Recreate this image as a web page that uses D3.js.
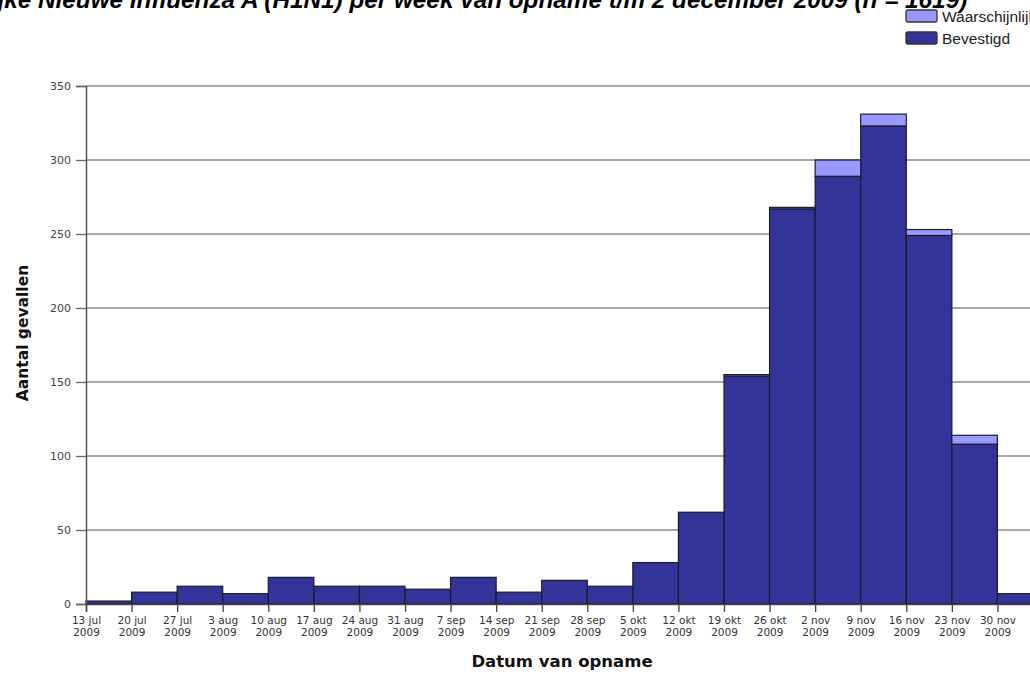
<!DOCTYPE html>
<html>
<head>
<meta charset="utf-8">
<script src="https://cdn.jsdelivr.net/npm/d3@7"></script>
<style>
  body { margin: 0; background: #fff; }
  svg { display: block; }
</style>
</head>
<body>
<div id="chart"></div>
<script>
// weekly admissions, stacked: bevestigd (confirmed) + waarschijnlijk (probable)
const weekStarts = ['2009-07-13', '2009-07-20', '2009-07-27', '2009-08-03', '2009-08-10', '2009-08-17',
  '2009-08-24', '2009-08-31', '2009-09-07', '2009-09-14', '2009-09-21', '2009-09-28', '2009-10-05',
  '2009-10-12', '2009-10-19', '2009-10-26', '2009-11-02', '2009-11-09', '2009-11-16', '2009-11-23',
  '2009-11-30'];
const weekLabels = ['13 jul', '20 jul', '27 jul', '3 aug', '10 aug', '17 aug', '24 aug', '31 aug',
  '7 sep', '14 sep', '21 sep', '28 sep', '5 okt', '12 okt', '19 okt', '26 okt', '2 nov', '9 nov',
  '16 nov', '23 nov', '30 nov'];
const yearLabel = '2009';
const bevestigd = [2, 8, 12, 7, 18, 12, 12, 10, 18, 8, 16, 12, 28, 62, 154, 267, 289, 323, 249, 108, 7];
const waarschijnlijk = [0, 0, 0, 0, 0, 0, 0, 0, 0, 0, 0, 0, 0, 0, 1, 1, 11, 8, 4, 6, 0];
const yTicks = [0, 50, 100, 150, 200, 250, 300, 350];

const seriesNames = ['Waarschijnlijk', 'Bevestigd'];
const colors = { Bevestigd: '#333399', Waarschijnlijk: '#9999ff' };
const titleText = 'Ziekenhuisopnames met bevestigde en waarschijnlijke Nieuwe Influenza A (H1N1) per week van opname t/m 2 december 2009 (n = 1619)';

const width = 1030;
const height = 675;
const margin = { left: 86, top: 86, bottom: 71 };
const plotRight = 1043;

const parse = d3.utcParse('%Y-%m-%d');
const dates = weekStarts.map(parse);
const rows = dates.map((d, i) => ({
  start: d,
  end: d3.utcDay.offset(d, 7),
  bevestigd: bevestigd[i],
  waarschijnlijk: waarschijnlijk[i],
}));

const svg = d3.select('#chart')
  .append('svg')
  .attr('width', width)
  .attr('height', height);

const x = d3.scaleUtc()
  .domain([dates[0], d3.utcDay.offset(dates[dates.length - 1], 7)])
  .range([margin.left, plotRight]);

const y = d3.scaleLinear()
  .domain([0, 350])
  .range([height - margin.bottom, margin.top]);

// grid
svg.append('g')
  .selectAll('line')
  .data(yTicks.slice(1))
  .join('line')
  .attr('x1', margin.left)
  .attr('x2', plotRight)
  .attr('y1', (d) => y(d))
  .attr('y2', (d) => y(d))
  .attr('stroke', '#8a8a8a')
  .attr('stroke-width', 1.3);

// bars
const stack = d3.stack().keys(['bevestigd', 'waarschijnlijk'])(rows);
svg.append('g')
  .selectAll('g')
  .data(stack)
  .join('g')
  .attr('fill', (s) => (s.key === 'bevestigd' ? colors.Bevestigd : colors.Waarschijnlijk))
  .selectAll('rect')
  .data((s) => s.filter((d) => d[1] > d[0]))
  .join('rect')
  .attr('x', (d) => x(d.data.start))
  .attr('width', (d) => x(d.data.end) - x(d.data.start))
  .attr('y', (d) => y(d[1]))
  .attr('height', (d) => y(d[0]) - y(d[1]))
  .attr('stroke', '#1a1a2a')
  .attr('stroke-width', 1.2);

// y axis
const yAxis = svg.append('g')
  .attr('transform', `translate(${margin.left},0)`)
  .call(d3.axisLeft(y).tickValues(yTicks).tickSize(10).tickPadding(5));
yAxis.select('.domain').attr('stroke', '#555').attr('stroke-width', 1.5);
yAxis.selectAll('.tick line').attr('stroke', '#666').attr('stroke-width', 1.3);
yAxis.selectAll('.tick text')
  .attr('font-family', 'DejaVu Sans')
  .attr('font-size', 11)
  .attr('fill', '#444');

// x axis
const xAxis = svg.append('g')
  .attr('transform', `translate(0,${y(0)})`)
  .call(d3.axisBottom(x).tickValues(dates).tickSize(8).tickFormat(''));
xAxis.select('.domain').attr('stroke', '#444').attr('stroke-width', 1.5);
xAxis.selectAll('.tick line').attr('stroke', '#444').attr('stroke-width', 1.3);
xAxis.selectAll('.tick text').remove();
const xLab = xAxis.selectAll('.tick')
  .append('text')
  .attr('font-family', 'DejaVu Sans')
  .attr('font-size', 10.5)
  .attr('fill', '#333')
  .attr('text-anchor', 'middle');
xLab.append('tspan').attr('x', 0).attr('y', 20).text((d, i) => weekLabels[i]);
xLab.append('tspan').attr('x', 0).attr('y', 32).text(yearLabel);

// axis titles
svg.append('text')
  .attr('transform', 'translate(28,333) rotate(-90)')
  .attr('text-anchor', 'middle')
  .attr('font-family', 'DejaVu Sans')
  .attr('font-weight', 'bold')
  .attr('font-size', 15.5)
  .attr('fill', '#111')
  .text('Aantal gevallen');

svg.append('text')
  .attr('x', 562)
  .attr('y', 667)
  .attr('text-anchor', 'middle')
  .attr('font-family', 'DejaVu Sans')
  .attr('font-weight', 'bold')
  .attr('font-size', 16.5)
  .attr('fill', '#111')
  .text('Datum van opname');

// title (runs off the left and right edge like the reference)
const title = svg.append('text')
  .attr('y', 8)
  .attr('font-family', 'Liberation Sans')
  .attr('font-weight', 'bold')
  .attr('font-style', 'italic')
  .attr('font-size', 24.3)
  .attr('fill', '#000')
  .text(titleText);
const off = title.node().getSubStringLength(0, titleText.indexOf('Nieuwe'));
title.attr('x', 38 - off);

// legend
const legend = svg.append('g')
  .selectAll('g')
  .data(seriesNames)
  .join('g')
  .attr('transform', (d, i) => `translate(906,${10 + i * 22})`);
legend.append('rect')
  .attr('width', 31)
  .attr('height', 12)
  .attr('rx', 1.5)
  .attr('fill', (d) => colors[d])
  .attr('stroke', '#333')
  .attr('stroke-width', 1.3);
legend.append('text')
  .attr('x', 36)
  .attr('y', 11.5)
  .attr('font-family', 'Liberation Sans')
  .attr('font-size', 15.5)
  .attr('fill', '#222')
  .text((d) => d);
</script>
</body>
</html>
